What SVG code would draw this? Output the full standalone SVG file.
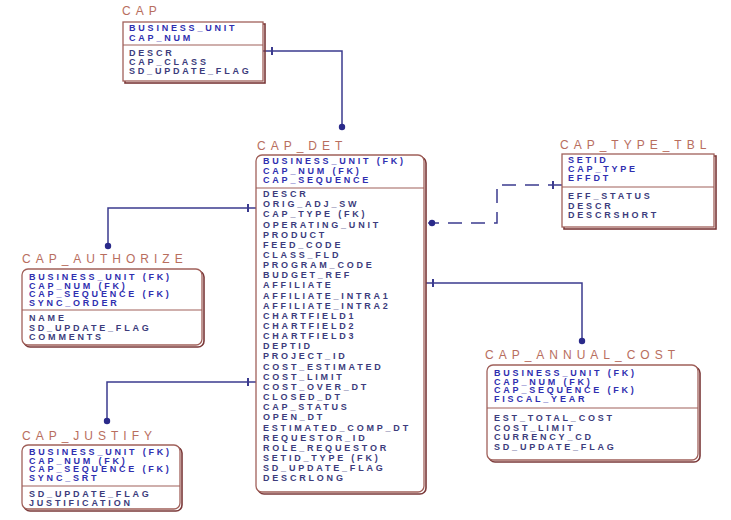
<svg xmlns="http://www.w3.org/2000/svg" width="731" height="520" viewBox="0 0 731 520">
<style>
.bg{fill:#ffffff}
.box{fill:#ffffff;stroke:#a0605a;stroke-width:1.3}
.shadow{fill:none;stroke:#7a3838;stroke-width:1.6}
.div{stroke:#a0605a;stroke-width:1.2}
.title{font-family:"Liberation Sans",Arial,sans-serif;font-size:12px;letter-spacing:5px;fill:#b86e5e}
.key{font-family:"Liberation Sans",Arial,sans-serif;font-size:9px;font-weight:bold;letter-spacing:2.8px;fill:#2f2fb0}
.att{font-family:"Liberation Sans",Arial,sans-serif;font-size:9px;font-weight:bold;letter-spacing:2.8px;fill:#3c3c7c}
.rel{fill:none;stroke:#3b3b8f;stroke-width:1.5}
.dash{stroke-dasharray:14 9}
.tick{stroke:#3b3b8f;stroke-width:2}
.dot{fill:#2a2a8a}
</style>
<rect class="bg" x="0" y="0" width="731" height="520"/>

<g id="connectors">
  <path class="rel" d="M263,51 H342 V126"/>
  <line class="tick" x1="272" y1="47" x2="272" y2="55"/>
  <circle class="dot" cx="342" cy="127" r="3.2"/>

  <path class="rel dash" d="M562,185 H497 V223 H428"/>
  <line class="tick" x1="553" y1="181" x2="553" y2="189"/>
  <circle class="dot" cx="432" cy="223" r="3.2"/>

  <path class="rel" d="M256,208 H108 V245"/>
  <line class="tick" x1="248" y1="204" x2="248" y2="212"/>
  <circle class="dot" cx="108" cy="246" r="3.2"/>

  <path class="rel" d="M426,283 H582 V340"/>
  <line class="tick" x1="433" y1="279" x2="433" y2="287"/>
  <circle class="dot" cx="582" cy="341" r="3.2"/>

  <path class="rel" d="M256,382 H107 V420"/>
  <line class="tick" x1="248" y1="378" x2="248" y2="386"/>
  <circle class="dot" cx="107" cy="421" r="3.2"/>
</g>

<g id="CAP">
  <text class="title" x="122" y="15">CAP</text>
  <rect class="shadow" x="125" y="24" width="140" height="59"/>
  <rect class="box" x="123" y="22" width="140" height="59"/>
  <text class="key" x="129" y="31">BUSINESS_UNIT</text>
  <text class="key" x="129" y="40.5">CAP_NUM</text>
  <line class="div" x1="123" y1="45" x2="263" y2="45"/>
  <text class="att" x="129" y="56">DESCR</text>
  <text class="att" x="129" y="65">CAP_CLASS</text>
  <text class="att" x="129" y="74">SD_UPDATE_FLAG</text>
</g>

<g id="CAP_DET">
  <text class="title" x="257" y="150">CAP_DET</text>
  <rect class="shadow" x="258" y="157" width="168" height="337" rx="6"/>
  <rect class="box" x="256" y="155" width="168" height="337" rx="6"/>
  <text class="key" x="263" y="164">BUSINESS_UNIT (FK)</text>
  <text class="key" x="263" y="173.5">CAP_NUM (FK)</text>
  <text class="key" x="263" y="183">CAP_SEQUENCE</text>
  <line class="div" x1="256" y1="188" x2="424" y2="188"/>
  <text class="att" x="263" y="197">DESCR</text>
  <text class="att" x="263" y="207.2">ORIG_ADJ_SW</text>
  <text class="att" x="263" y="217.3">CAP_TYPE (FK)</text>
  <text class="att" x="263" y="227.5">OPERATING_UNIT</text>
  <text class="att" x="263" y="237.6">PRODUCT</text>
  <text class="att" x="263" y="247.8">FEED_CODE</text>
  <text class="att" x="263" y="257.9">CLASS_FLD</text>
  <text class="att" x="263" y="268.1">PROGRAM_CODE</text>
  <text class="att" x="263" y="278.2">BUDGET_REF</text>
  <text class="att" x="263" y="288.4">AFFILIATE</text>
  <text class="att" x="263" y="298.5">AFFILIATE_INTRA1</text>
  <text class="att" x="263" y="308.7">AFFILIATE_INTRA2</text>
  <text class="att" x="263" y="318.8">CHARTFIELD1</text>
  <text class="att" x="263" y="329">CHARTFIELD2</text>
  <text class="att" x="263" y="339.1">CHARTFIELD3</text>
  <text class="att" x="263" y="349.3">DEPTID</text>
  <text class="att" x="263" y="359.4">PROJECT_ID</text>
  <text class="att" x="263" y="369.6">COST_ESTIMATED</text>
  <text class="att" x="263" y="379.7">COST_LIMIT</text>
  <text class="att" x="263" y="389.9">COST_OVER_DT</text>
  <text class="att" x="263" y="400">CLOSED_DT</text>
  <text class="att" x="263" y="410.2">CAP_STATUS</text>
  <text class="att" x="263" y="420.3">OPEN_DT</text>
  <text class="att" x="263" y="430.5">ESTIMATED_COMP_DT</text>
  <text class="att" x="263" y="440.6">REQUESTOR_ID</text>
  <text class="att" x="263" y="450.8">ROLE_REQUESTOR</text>
  <text class="att" x="263" y="460.9">SETID_TYPE (FK)</text>
  <text class="att" x="263" y="471.1">SD_UPDATE_FLAG</text>
  <text class="att" x="263" y="481.2">DESCRLONG</text>
</g>

<g id="CAP_TYPE_TBL">
  <text class="title" x="560" y="149">CAP_TYPE_TBL</text>
  <rect class="shadow" x="564" y="156" width="152" height="73"/>
  <rect class="box" x="562" y="154" width="152" height="73"/>
  <text class="key" x="568" y="163">SETID</text>
  <text class="key" x="568" y="172">CAP_TYPE</text>
  <text class="key" x="568" y="181">EFFDT</text>
  <line class="div" x1="562" y1="187" x2="714" y2="187"/>
  <text class="att" x="568" y="199">EFF_STATUS</text>
  <text class="att" x="568" y="208.5">DESCR</text>
  <text class="att" x="568" y="218">DESCRSHORT</text>
</g>

<g id="CAP_AUTHORIZE">
  <text class="title" x="22" y="263">CAP_AUTHORIZE</text>
  <rect class="shadow" x="24" y="271" width="180" height="76" rx="6"/>
  <rect class="box" x="22" y="269" width="180" height="76" rx="6"/>
  <text class="key" x="29" y="280">BUSINESS_UNIT (FK)</text>
  <text class="key" x="29" y="288.5">CAP_NUM (FK)</text>
  <text class="key" x="29" y="297">CAP_SEQUENCE (FK)</text>
  <text class="key" x="29" y="305.5">SYNC_ORDER</text>
  <line class="div" x1="22" y1="310" x2="202" y2="310"/>
  <text class="att" x="29" y="321">NAME</text>
  <text class="att" x="29" y="330.5">SD_UPDATE_FLAG</text>
  <text class="att" x="29" y="340">COMMENTS</text>
</g>

<g id="CAP_ANNUAL_COST">
  <text class="title" x="485" y="359">CAP_ANNUAL_COST</text>
  <rect class="shadow" x="489" y="367" width="211" height="95" rx="6"/>
  <rect class="box" x="487" y="365" width="211" height="95" rx="6"/>
  <text class="key" x="494" y="376">BUSINESS_UNIT (FK)</text>
  <text class="key" x="494" y="384.5">CAP_NUM (FK)</text>
  <text class="key" x="494" y="393">CAP_SEQUENCE (FK)</text>
  <text class="key" x="494" y="401.5">FISCAL_YEAR</text>
  <line class="div" x1="487" y1="408" x2="698" y2="408"/>
  <text class="att" x="494" y="421">EST_TOTAL_COST</text>
  <text class="att" x="494" y="430.5">COST_LIMIT</text>
  <text class="att" x="494" y="440">CURRENCY_CD</text>
  <text class="att" x="494" y="449.5">SD_UPDATE_FLAG</text>
</g>

<g id="CAP_JUSTIFY">
  <text class="title" x="22" y="440">CAP_JUSTIFY</text>
  <rect class="shadow" x="24" y="447" width="158" height="64" rx="6"/>
  <rect class="box" x="22" y="445" width="158" height="64" rx="6"/>
  <text class="key" x="29" y="455">BUSINESS_UNIT (FK)</text>
  <text class="key" x="29" y="463.5">CAP_NUM (FK)</text>
  <text class="key" x="29" y="472">CAP_SEQUENCE (FK)</text>
  <text class="key" x="29" y="480.5">SYNC_SRT</text>
  <line class="div" x1="22" y1="486" x2="180" y2="486"/>
  <text class="att" x="29" y="496.5">SD_UPDATE_FLAG</text>
  <text class="att" x="29" y="505.5">JUSTIFICATION</text>
</g>
</svg>
